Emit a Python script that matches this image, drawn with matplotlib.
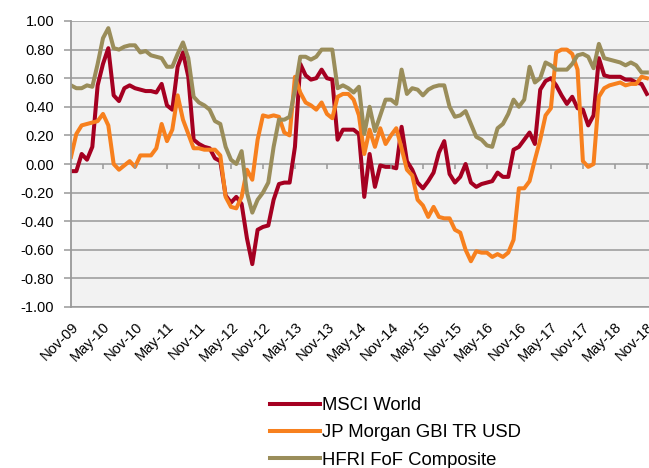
import numpy as np
import pandas as pd
import matplotlib
matplotlib.use("Agg")
import matplotlib.pyplot as plt

plt.rcParams['font.family'] = ['Liberation Sans', 'DejaVu Sans']

# monthly rolling correlations, Nov-09 .. Nov-18
months = pd.date_range('2009-11-01', periods=109, freq='MS')

msci = [-0.05, -0.05, 0.07, 0.03, 0.12, 0.55, 0.70, 0.81, 0.48, 0.44,
        0.53, 0.55, 0.53, 0.52, 0.51, 0.51, 0.50, 0.56, 0.41, 0.38,
        0.68, 0.78, 0.61, 0.17, 0.14, 0.12, 0.11, 0.04, 0.02, -0.22,
        -0.27, -0.23, -0.28, -0.52, -0.70, -0.46, -0.44, -0.43, -0.25, -0.14,
        -0.13, -0.13, 0.12, 0.70, 0.62, 0.59, 0.60, 0.66, 0.60, 0.59,
        0.17, 0.24, 0.24, 0.24, 0.21, -0.23, 0.07, -0.16, -0.01, -0.02,
        -0.02, -0.03, 0.26, 0.02, -0.04, -0.13, -0.17, -0.12, -0.06, 0.08,
        0.16, -0.07, -0.13, -0.09, 0.00, -0.13, -0.16, -0.14, -0.13, -0.12,
        -0.06, -0.09, -0.09, 0.10, 0.12, 0.17, 0.22, 0.14, 0.52, 0.58,
        0.60, 0.55, 0.48, 0.42, 0.47, 0.39, 0.38, 0.27, 0.34, 0.74,
        0.62, 0.61, 0.61, 0.61, 0.59, 0.59, 0.57, 0.56, 0.49]

jpm = [0.05, 0.21, 0.27, 0.28, 0.29, 0.30, 0.35, 0.27, 0.00, -0.04,
       -0.01, 0.02, -0.02, 0.06, 0.06, 0.06, 0.11, 0.28, 0.16, 0.24,
       0.48, 0.31, 0.21, 0.11, 0.11, 0.10, 0.10, 0.10, 0.06, -0.23,
       -0.30, -0.31, -0.23, -0.04, -0.11, 0.17, 0.34, 0.33, 0.34, 0.33,
       0.22, 0.20, 0.61, 0.50, 0.43, 0.41, 0.38, 0.43, 0.35, 0.32,
       0.47, 0.49, 0.49, 0.45, 0.34, 0.07, 0.24, 0.12, 0.25, 0.14,
       0.20, 0.25, 0.11, -0.04, -0.08, -0.25, -0.29, -0.37, -0.30, -0.37,
       -0.38, -0.38, -0.46, -0.48, -0.60, -0.68, -0.61, -0.62, -0.62, -0.65,
       -0.63, -0.65, -0.62, -0.53, -0.17, -0.17, -0.12, 0.03, 0.17, 0.34,
       0.39, 0.78, 0.80, 0.80, 0.77, 0.66, 0.02, -0.02, 0.00, 0.47,
       0.53, 0.55, 0.56, 0.57, 0.55, 0.56, 0.56, 0.61, 0.60]

hfri = [0.55, 0.53, 0.53, 0.55, 0.54, 0.70, 0.88, 0.95, 0.81, 0.80,
        0.82, 0.83, 0.83, 0.78, 0.79, 0.76, 0.75, 0.74, 0.68, 0.68,
        0.77, 0.85, 0.74, 0.47, 0.43, 0.41, 0.38, 0.30, 0.28, 0.12,
        0.03, 0.00, 0.09, -0.20, -0.34, -0.25, -0.20, -0.13, 0.12, 0.31,
        0.31, 0.33, 0.52, 0.75, 0.75, 0.73, 0.75, 0.80, 0.80, 0.80,
        0.53, 0.55, 0.53, 0.50, 0.54, 0.21, 0.40, 0.23, 0.34, 0.45,
        0.45, 0.42, 0.66, 0.49, 0.53, 0.52, 0.48, 0.52, 0.54, 0.55,
        0.55, 0.40, 0.33, 0.34, 0.37, 0.28, 0.19, 0.17, 0.13, 0.12,
        0.25, 0.28, 0.35, 0.45, 0.40, 0.45, 0.68, 0.57, 0.60, 0.71,
        0.69, 0.66, 0.66, 0.66, 0.70, 0.76, 0.77, 0.75, 0.67, 0.84,
        0.74, 0.73, 0.72, 0.71, 0.69, 0.71, 0.69, 0.64, 0.64]

names = ['MSCI World', 'JP Morgan GBI TR USD', 'HFRI FoF Composite']
colors = ['#A50021', '#F7801E', '#9A8D5A']

fig = plt.figure(figsize=(6.49, 4.68), dpi=100)
ax = fig.add_axes([71 / 649, 1 - 307 / 468, 1 - 71 / 649, (307 - 21) / 468])
ax.set_facecolor('#F2F2F2')

x = np.arange(len(months))
for vals, name, c in zip([msci, jpm, hfri], names, colors):
    ax.plot(x, vals, color=c, lw=2.9, label=name, solid_joinstyle='round')

ax.set_xlim(0, 108.4)
ax.set_ylim(-1, 1)
yt = np.round(np.arange(-1, 1.01, 0.2), 2) + 0.0
ax.set_yticks(yt)
ax.set_yticklabels([f'{abs(v):.2f}' if abs(v) < 1e-9 else f'{v:.2f}' for v in yt],
                   fontsize=10.5)
ax.grid(axis='y', color='#999999', lw=1.1)
ax.set_axisbelow(True)

xt = x[::6]
ax.set_xticks(xt)
ax.set_xticklabels([m.strftime('%b-%y') for m in months[::6]], rotation=45,
                   ha='right', va='top', rotation_mode='anchor', fontsize=10.5)
ax.tick_params(axis='x', length=0, pad=9)
ax.tick_params(axis='y', length=5, color='#999999', width=1.1, pad=7)
# small category ticks on the zero line
ax.vlines(xt[1:], -0.035, 0, color='#999999', lw=1.1)

for s in ['top', 'right']:
    ax.spines[s].set_visible(False)
ax.spines['left'].set_color('#999999')
ax.spines['left'].set_linewidth(1.3)
ax.spines['bottom'].set_color('#999999')
ax.spines['bottom'].set_linewidth(1.1)

fig.legend(loc='upper left', bbox_to_anchor=(270 / 649, 1 - 397 / 468),
           frameon=False, fontsize=13.3, handlelength=2.7, handletextpad=0.12,
           labelspacing=0.56, borderpad=0, borderaxespad=0)

fig.savefig('out.png', dpi=100)
